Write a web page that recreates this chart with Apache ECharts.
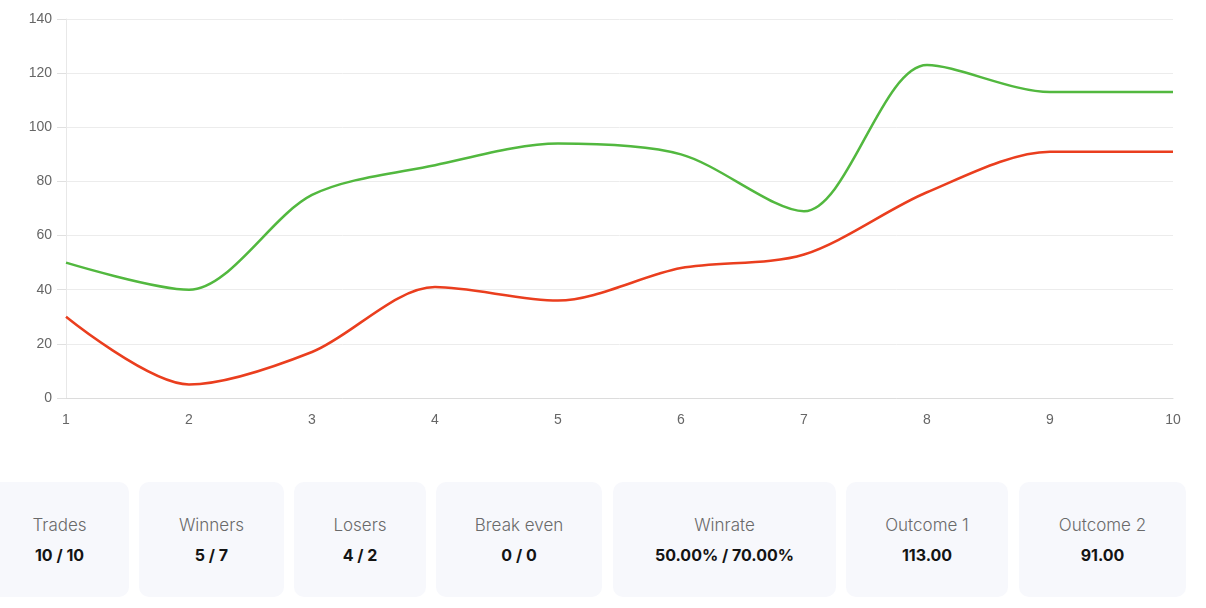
<!DOCTYPE html>
<html>
<head>
<meta charset="utf-8">
<script src="https://cdn.jsdelivr.net/npm/echarts@6/dist/echarts.min.js"></script>
<style>
  html, body { margin: 0; padding: 0; background: #fff; }
  #chart { width: 1206px; height: 440px; }
  #stats { position: absolute; top: 482px; left: 0; height: 115px; }
  .card {
    position: absolute; top: 0; height: 115px;
    background: #f7f8fc; border-radius: 10px;
    font-family: Inter, "Noto Sans", sans-serif; text-align: center;
  }
  .card .lbl { position: absolute; left: 0; right: 0; top: 33px; font-size: 17px; font-weight: 300; color: #6a6a6a; }
  .card .val { position: absolute; left: 0; right: 0; top: 63px; font-size: 16px; font-weight: 700; color: #141414; }
</style>
</head>
<body>
<div id="chart"></div>
<div id="stats"></div>
<script>
  const categories = ['1', '2', '3', '4', '5', '6', '7', '8', '9', '10']
  const outcome1 = [50, 40, 75, 86, 94, 90, 69, 123, 113, 113]
  const outcome2 = [30, 5, 17, 41, 36, 48, 53, 76, 91, 91]
  const statLabels = ['Trades', 'Winners', 'Losers', 'Break even', 'Winrate', 'Outcome 1', 'Outcome 2']
  const statValues = ['10 / 10', '5 / 7', '4 / 2', '0 / 0', '50.00% / 70.00%', '113.00', '91.00']

  // card boxes (left, width) as seen in the layout
  const cardBoxes = [[-10, 139], [139, 145], [294, 132], [436, 166], [613, 223], [846, 162], [1019, 167]]

  const stats = document.getElementById('stats')
  statLabels.forEach((l, i) => {
    const c = document.createElement('div')
    c.className = 'card'
    c.style.left = cardBoxes[i][0] + 'px'
    c.style.width = cardBoxes[i][1] + 'px'
    c.innerHTML = '<div class="lbl">' + l + '</div><div class="val">' + statValues[i] + '</div>'
    stats.appendChild(c)
  })

  const chart = echarts.init(document.getElementById('chart'))
  const font = 'Liberation Sans, Arial, sans-serif'
  chart.setOption({
    animation: false,
    grid: { left: 66, right: 33, top: 19, bottom: 42 },
    xAxis: {
      type: 'category',
      data: categories,
      boundaryGap: false,
      axisLine: { lineStyle: { color: '#dcdcdc', width: 1 } },
      axisTick: { show: false },
      splitLine: { show: false },
      axisLabel: { color: '#666', fontSize: 14, fontFamily: font, margin: 15 }
    },
    yAxis: {
      type: 'value',
      min: 0,
      max: 140,
      interval: 20,
      axisLine: { show: true, lineStyle: { color: '#e8e8e8', width: 1 } },
      axisTick: { show: true, length: 9, lineStyle: { color: '#e0e0e0' } },
      splitLine: { lineStyle: { color: '#ececec', width: 1 } },
      axisLabel: { color: '#666', fontSize: 14, fontFamily: font, margin: 14 }
    },
    series: [
      {
        name: 'Outcome 1', type: 'line', data: outcome1, smooth: 0.3,
        symbol: 'none', lineStyle: { color: '#52b83f', width: 2.5 }
      },
      {
        name: 'Outcome 2', type: 'line', data: outcome2, smooth: 0.3,
        symbol: 'none', lineStyle: { color: '#ea3e1e', width: 2.5 }
      }
    ]
  })
</script>
</body>
</html>
